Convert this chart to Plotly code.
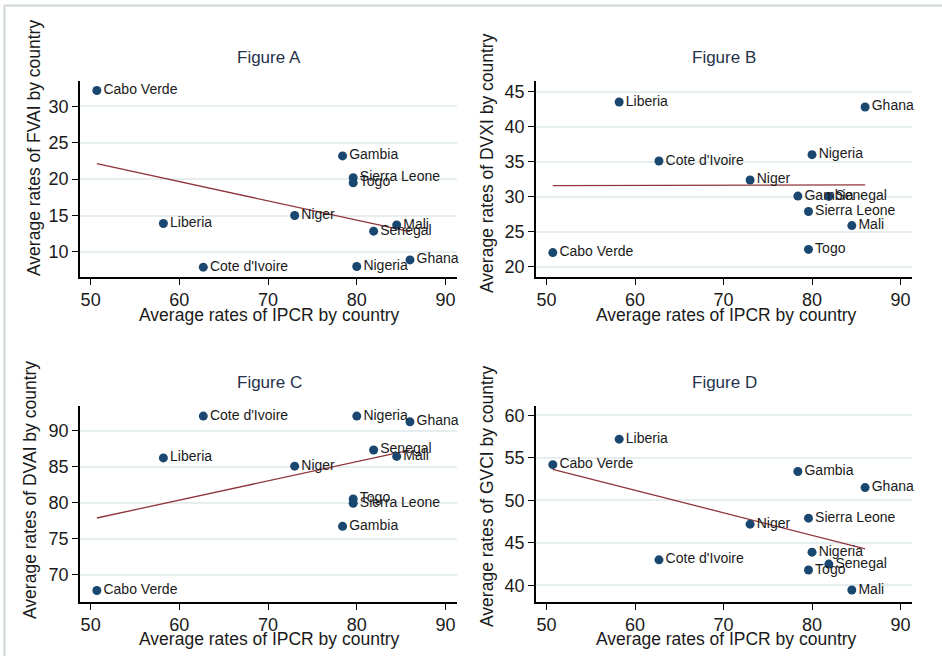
import numpy as np
import plotly.graph_objects as go

countries = ["Cabo Verde", "Liberia", "Cote d'Ivoire", "Niger", "Gambia", "Sierra Leone",
             "Togo", "Nigeria", "Senegal", "Mali", "Ghana"]
ipcr = [50.7, 58.2, 62.7, 73.0, 78.4, 79.6, 79.6, 80.0, 81.9, 84.5, 86.0]
fvai = [32.2, 13.9, 7.9, 15.0, 23.2, 20.2, 19.5, 8.0, 12.85, 13.7, 8.9]
dvxi = [22.05, 43.5, 35.1, 32.4, 30.1, 27.9, 22.5, 36.0, 30.05, 25.9, 42.8]
dvai = [67.8, 86.2, 92.0, 85.05, 76.7, 79.9, 80.5, 92.0, 87.3, 86.4, 91.2]
gvci = [54.2, 57.2, 43.0, 47.2, 53.4, 47.9, 41.8, 43.9, 42.5, 39.45, 51.5]

panel_titles = ["Figure A", "Figure B", "Figure C", "Figure D"]
y_titles = ["Average rates of FVAI by country", "Average rates of DVXI by country",
            "Average rates of DVAI by country", "Average rates of GVCI by country"]
x_title = "Average rates of IPCR by country"
x_ticks = [50, 60, 70, 80, 90]
y_ticks = [[10, 15, 20, 25, 30], [20, 25, 30, 35, 40, 45],
           [70, 75, 80, 85, 90], [40, 45, 50, 55, 60]]
series = [fvai, dvxi, dvai, gvci]

W, H = 942, 656
FONT = "Liberation Sans, Arial, sans-serif"
NAVY = "#1a476f"
MAROON = "#90353b"
TXT = "#1a1a1a"
TITLE_C = "#26324a"
GRID = "#e6eef0"

# pixel layout (left, right, top, bottom) of each plot region
boxes = [(80, 457, 81, 277), (536, 912, 81, 277), (80, 457, 406, 602), (536, 912, 406, 602)]
y_ranges = [(6.55, 33.5), (18.57, 46.5), (66.2, 93.4), (38.04, 61.1)]
x_range = (48.8, 91.3)
title_pos = [(269, 58), (724, 58), (269, 382), (724, 382)]
xt_pos = [(269.5, 315), (726, 315), (269.5, 639), (726, 639)]
yt_pos = [(34.5, 148.5), (487, 163), (30, 490), (487, 496)]

fig = go.Figure()
annotations = []
for i in range(4):
    sx = "" if i == 0 else str(i + 1)
    xa, ya = "x" + sx, "y" + sx
    ys = series[i]
    coef = np.polyfit(ipcr, ys, 1)
    xl = [min(ipcr), max(ipcr)]
    yl = [coef[0] * v + coef[1] for v in xl]
    fig.add_trace(go.Scatter(x=xl, y=yl, mode="lines", line=dict(color=MAROON, width=1.3),
                             xaxis=xa, yaxis=ya, showlegend=False, hoverinfo="skip"))
    fig.add_trace(go.Scatter(x=ipcr, y=ys, mode="markers+text", text=countries,
                             textposition="middle right", cliponaxis=False,
                             textfont=dict(family=FONT, size=14, color=TXT),
                             marker=dict(color=NAVY, size=9),
                             xaxis=xa, yaxis=ya, showlegend=False))
    l, r, t, b = boxes[i]
    common = dict(showline=True, linecolor="black", linewidth=1.5, ticks="outside",
                  ticklen=6, tickwidth=1.2, tickcolor="black", zeroline=False,
                  tickfont=dict(family=FONT, size=18, color=TXT))
    fig.update_layout(**{
        "xaxis" + sx: dict(domain=[l / W, r / W], range=list(x_range), tickvals=x_ticks,
                           showgrid=False, anchor=ya, ticklabelstandoff=0, **common),
        "yaxis" + sx: dict(domain=[1 - b / H, 1 - t / H], range=list(y_ranges[i]),
                           tickvals=y_ticks[i], showgrid=True, gridcolor=GRID, gridwidth=1.5,
                           anchor=xa, ticklabelstandoff=0, **common),
    })
    annotations.append(dict(text=panel_titles[i], x=title_pos[i][0] / W, y=1 - title_pos[i][1] / H,
                            xref="paper", yref="paper", showarrow=False, xanchor="center",
                            yanchor="middle", font=dict(family=FONT, size=17, color=TITLE_C)))
    annotations.append(dict(text=x_title, x=xt_pos[i][0] / W, y=1 - xt_pos[i][1] / H,
                            xref="paper", yref="paper", showarrow=False, xanchor="center",
                            yanchor="middle", font=dict(family=FONT, size=17.5, color=TXT)))
    annotations.append(dict(text=y_titles[i], x=yt_pos[i][0] / W, y=1 - yt_pos[i][1] / H,
                            xref="paper", yref="paper", showarrow=False, xanchor="center",
                            yanchor="middle", textangle=-90,
                            font=dict(family=FONT, size=17.5, color=TXT)))

shapes = [
    dict(type="line", xref="paper", yref="paper", x0=4 / W, x1=1, y0=1 - 5.5 / H, y1=1 - 5.5 / H,
         line=dict(color="#cdd5d9", width=2), layer="above"),
    dict(type="line", xref="paper", yref="paper", x0=4.5 / W, x1=4.5 / W, y0=0, y1=1 - 5.5 / H,
         line=dict(color="#cdd5d9", width=2), layer="above"),
]

fig.update_layout(width=W, height=H, margin=dict(l=0, r=0, t=0, b=0),
                  paper_bgcolor="white", plot_bgcolor="white",
                  annotations=annotations, shapes=shapes, showlegend=False)
fig.write_html("out.html", config={"displayModeBar": False},
               post_script="document.body.style.margin='0';document.body.style.overflow='hidden';")
